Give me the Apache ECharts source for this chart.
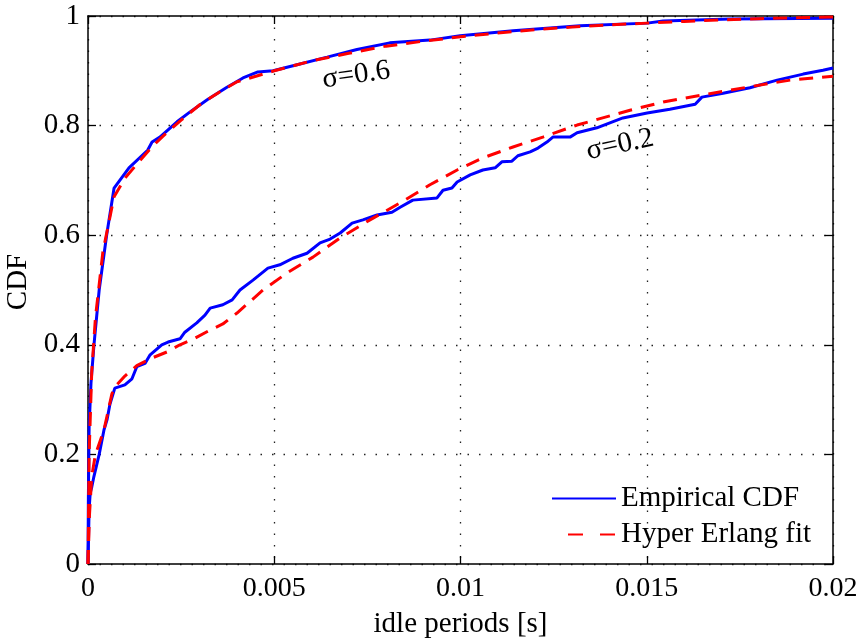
<!DOCTYPE html>
<html>
<head>
<meta charset="utf-8">
<title>Idle periods CDF</title>
<script src="https://cdn.jsdelivr.net/npm/echarts@6/dist/echarts.min.js"></script>
<style>
  html, body { margin: 0; padding: 0; background: #fff; }
  #chart { width: 861px; height: 642px; }
</style>
</head>
<body>
<div id="chart"></div>
<script>
// x ticks / y ticks
const xTicks = [0, 0.005, 0.01, 0.015, 0.02];
const yTicks = [0, 0.2, 0.4, 0.6, 0.8, 1];

// sigma = 0.6, empirical CDF  [idle period (s), CDF]
const empirical06 = [
    [0, 0], [0.00001, 0.12], [0.00003, 0.25], [0.00008, 0.33], [0.00016, 0.40],
    [0.0003, 0.50], [0.0005, 0.60], [0.0007, 0.686], [0.0011, 0.723], [0.0016, 0.755],
    [0.00172, 0.770], [0.00193, 0.779], [0.00239, 0.807], [0.00274, 0.825],
    [0.0032, 0.847], [0.00373, 0.870], [0.00416, 0.887], [0.00456, 0.898],
    [0.00497, 0.900], [0.00561, 0.911], [0.00642, 0.925], [0.00722, 0.939],
    [0.0081, 0.951], [0.00918, 0.956], [0.00999, 0.964], [0.01141, 0.973],
    [0.01321, 0.982], [0.01501, 0.987], [0.01544, 0.991], [0.01723, 0.9945],
    [0.02, 0.996]
];

// sigma = 0.6, hyper Erlang fit
const fit06 = [
    [0, 0], [0.00003, 0.2], [0.0001, 0.35], [0.0002, 0.45], [0.0004, 0.57],
    [0.0007, 0.67], [0.001, 0.705], [0.0017, 0.76], [0.002, 0.78], [0.0025, 0.81],
    [0.003, 0.838], [0.0035, 0.86], [0.004, 0.88], [0.005, 0.90], [0.006, 0.918],
    [0.007, 0.932], [0.008, 0.945], [0.009, 0.954], [0.01, 0.962], [0.011, 0.969],
    [0.012, 0.975], [0.013, 0.98], [0.014, 0.984], [0.015, 0.987], [0.016, 0.99],
    [0.017, 0.993], [0.018, 0.995], [0.019, 0.997], [0.02, 0.998]
];

// sigma = 0.2, empirical CDF
const empirical02 = [
    [0, 0], [0.00003, 0.10], [0.00006, 0.13], [0.0001, 0.14], [0.00016, 0.16],
    [0.0003, 0.20], [0.00043, 0.245], [0.00051, 0.263], [0.00059, 0.292],
    [0.00072, 0.321], [0.00099, 0.327], [0.00118, 0.338], [0.00131, 0.360],
    [0.00153, 0.366], [0.00166, 0.381], [0.00198, 0.400], [0.00215, 0.405],
    [0.00247, 0.411], [0.0026, 0.423], [0.00292, 0.440], [0.00314, 0.454],
    [0.00328, 0.467], [0.00362, 0.473], [0.00387, 0.482], [0.00408, 0.50],
    [0.00443, 0.518], [0.00483, 0.540], [0.00515, 0.546], [0.0055, 0.558],
    [0.00588, 0.567], [0.00623, 0.586], [0.0065, 0.593], [0.00677, 0.604],
    [0.00709, 0.622], [0.00738, 0.628], [0.00776, 0.637], [0.00816, 0.642],
    [0.00838, 0.651], [0.00872, 0.664], [0.00937, 0.668], [0.00953, 0.682],
    [0.00977, 0.686], [0.00991, 0.697], [0.01026, 0.710], [0.0106, 0.719],
    [0.01093, 0.723], [0.01111, 0.734], [0.01138, 0.735], [0.01154, 0.745],
    [0.01187, 0.752], [0.01208, 0.759], [0.01232, 0.770], [0.01248, 0.779],
    [0.01294, 0.779], [0.01313, 0.787], [0.01366, 0.796], [0.01436, 0.814],
    [0.01501, 0.823], [0.01562, 0.830], [0.0163, 0.839], [0.01648, 0.852],
    [0.01705, 0.859], [0.01777, 0.869], [0.0185, 0.883], [0.0192, 0.894],
    [0.01973, 0.901], [0.02, 0.905]
];

// sigma = 0.2, hyper Erlang fit
const fit02 = [
    [0, 0], [0.00004, 0.09], [0.0001, 0.16], [0.0002, 0.20], [0.00043, 0.245],
    [0.00064, 0.31], [0.00072, 0.323], [0.00099, 0.343], [0.00131, 0.362],
    [0.00172, 0.376], [0.00212, 0.387], [0.00247, 0.400], [0.00287, 0.412],
    [0.00328, 0.427], [0.00362, 0.438], [0.004, 0.458], [0.0047, 0.50],
    [0.00534, 0.531], [0.00604, 0.560], [0.00677, 0.595], [0.00757, 0.628],
    [0.00838, 0.659], [0.00918, 0.692], [0.00991, 0.719], [0.0106, 0.741],
    [0.01141, 0.761], [0.01221, 0.779], [0.01313, 0.801], [0.01455, 0.828],
    [0.01544, 0.843], [0.01651, 0.856], [0.01769, 0.870], [0.01885, 0.883],
    [0.02, 0.890]
];

// curve labels [x, y, text]
const curveLabels = [
    [0.0072, 0.892, 'σ=0.6'],
    [0.01428, 0.765, 'σ=0.2']
];

const FONT = "'Liberation Serif', 'Times New Roman', serif";
const BLUE = '#0000ff';
const RED = '#ff0000';

const chart = echarts.init(document.getElementById('chart'));

const gridLine = { show: true, lineStyle: { color: '#222', width: 1.3, type: [1.5, 10] } };
const boxLine = { show: true, onZero: false, lineStyle: { color: '#000', width: 1.5 } };
const tick = { show: true, inside: true, length: 8, lineStyle: { color: '#000', width: 1.3 } };

function blueSeries(data, withLabels) {
    const s = {
        name: 'Empirical CDF',
        type: 'line',
        data: data,
        showSymbol: false,
        symbol: 'none',
        lineStyle: { color: BLUE, width: 3 },
        itemStyle: { color: BLUE },
        z: 3
    };
    if (withLabels) {
        s.markPoint = {
            symbol: 'circle',
            symbolSize: 0,
            silent: true,
            data: curveLabels.map((d, i) => ({
                coord: [d[0], d[1]],
                label: {
                    show: true,
                    formatter: d[2],
                    color: '#000',
                    fontFamily: FONT,
                    fontSize: 29,
                    rotate: i === 0 ? 8 : 12
                }
            }))
        };
    }
    return s;
}

function redSeries(data) {
    return {
        name: 'Hyper Erlang fit',
        type: 'line',
        data: data,
        showSymbol: false,
        symbol: 'none',
        lineStyle: { color: RED, width: 3, type: [14, 9] },
        itemStyle: { color: RED },
        z: 4
    };
}

chart.setOption({
    animation: false,
    backgroundColor: '#fff',
    textStyle: { fontFamily: FONT },
    grid: { left: 88, right: 28, top: 16, bottom: 78, containLabel: false, outerBoundsMode: 'none' },
    legend: {
        data: [
            { name: 'Empirical CDF' },
            { name: 'Hyper Erlang fit', lineStyle: { type: [15, 17], dashOffset: 16 } }
        ],
        orient: 'vertical',
        left: 546,
        top: 479,
        itemWidth: 64,
        itemHeight: 14,
        itemGap: 7,
        itemStyle: { opacity: 0, color: 'rgba(0,0,0,0)', borderWidth: 0 },
        textStyle: { fontFamily: FONT, fontSize: 29, color: '#000' }
    },
    xAxis: [{
        type: 'value',
        min: xTicks[0],
        max: xTicks[xTicks.length - 1],
        interval: 0.005,
        name: 'idle periods [s]',
        nameLocation: 'middle',
        nameGap: 46,
        nameTextStyle: { fontFamily: FONT, fontSize: 29, color: '#000' },
        axisLine: boxLine,
        axisTick: tick,
        axisLabel: { fontFamily: FONT, fontSize: 28, color: '#000', margin: 11 },
        splitLine: gridLine
    }, {
        type: 'value',
        position: 'top',
        min: xTicks[0],
        max: xTicks[xTicks.length - 1],
        interval: 0.005,
        axisLine: boxLine,
        axisTick: tick,
        axisLabel: { show: false },
        splitLine: { show: false }
    }],
    yAxis: [{
        type: 'value',
        min: yTicks[0],
        max: yTicks[yTicks.length - 1],
        interval: 0.2,
        name: 'CDF',
        nameLocation: 'middle',
        nameGap: 55,
        nameTextStyle: { fontFamily: FONT, fontSize: 29, color: '#000', padding: [0, 0, 0, 16] },
        axisLine: boxLine,
        axisTick: tick,
        axisLabel: { fontFamily: FONT, fontSize: 29, color: '#000', margin: 8 },
        splitLine: gridLine
    }, {
        type: 'value',
        position: 'right',
        min: yTicks[0],
        max: yTicks[yTicks.length - 1],
        interval: 0.2,
        axisLine: boxLine,
        axisTick: tick,
        axisLabel: { show: false },
        splitLine: { show: false }
    }],
    series: [
        blueSeries(empirical06, true),
        blueSeries(empirical02, false),
        redSeries(fit06),
        redSeries(fit02)
    ]
});

window.addEventListener('resize', () => chart.resize());
</script>
</body>
</html>
